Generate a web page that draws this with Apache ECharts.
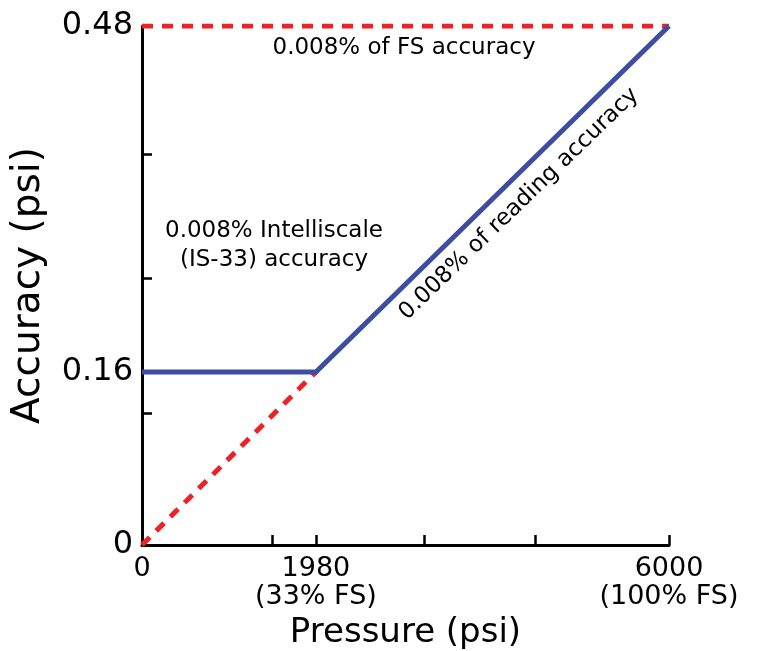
<!DOCTYPE html>
<html>
<head>
<meta charset="utf-8">
<script src="https://cdn.jsdelivr.net/npm/echarts@6/dist/echarts.min.js"></script>
<style>
html,body{margin:0;padding:0;background:#fff;}
#chart{width:762px;height:651px;}
</style>
</head>
<body>
<div id="chart"></div>
<script>
// ---- data ----
const xLabelValues = [0, 1980, 6000];
const xLabelTexts = { 0: '0', 1980: '1980\n(33% FS)', 6000: '6000\n(100% FS)' };
const xTickValues = [0, 1480, 1980, 3210, 4475, 6000];
const yLabelValues = [0, 0.16, 0.48];
const yLabelTexts = { 0: '0', 0.16: '0.16', 0.48: '0.48' };
const yTickValues = [0, 0.122, 0.16, 0.247, 0.361, 0.48];

const pressure = [0, 1980, 6000];
const instrumentAccuracy = [0.16, 0.16, 0.48];      // IS-33 Intelliscale (blue)
const fsPressure = [0, 6000];
const fsAccuracy = [0.48, 0.48];                    // 0.008% of FS (red dashed)
const readingPressure = [0, 1980];
const readingAccuracy = [0, 0.16];                  // 0.008% of reading below 33% FS (red dashed)

const annFS = '0.008% of FS accuracy';
const annIS = '0.008% Intelliscale\n(IS-33) accuracy';
const annRD = '0.008% of reading accuracy';

// ---- chart ----
const FONT = 'DejaVu Sans';
const chart = echarts.init(document.getElementById('chart'), null, { renderer: 'canvas' });
const zip = (xs, ys) => xs.map((x, i) => [x, ys[i]]);

chart.setOption({
  animation: false,
  backgroundColor: '#ffffff',
  grid: { left: 142, right: 93, top: 26, bottom: 106, containLabel: false, outerBoundsMode: 'none' },
  xAxis: {
    type: 'value', min: 0, max: 6000,
    name: 'Pressure (psi)', nameLocation: 'middle', nameGap: 71,
    nameTextStyle: { fontFamily: FONT, fontSize: 34, color: '#000' },
    axisLine: { show: true, onZero: false, lineStyle: { color: '#000', width: 3 } },
    axisTick: { show: true, inside: true, length: 10, lineStyle: { color: '#000', width: 2.5 }, customValues: xTickValues },
    axisLabel: {
      show: true, customValues: xLabelValues, margin: 10,
      fontFamily: FONT, fontSize: 27, color: '#000', lineHeight: 28,
      formatter: v => xLabelTexts[v] !== undefined ? xLabelTexts[v] : ''
    },
    splitLine: { show: false }
  },
  yAxis: {
    type: 'value', min: 0, max: 0.48,
    name: 'Accuracy (psi)', nameLocation: 'middle', nameGap: 94,
    nameTextStyle: { fontFamily: FONT, fontSize: 39, color: '#000' },
    axisLine: { show: true, onZero: false, lineStyle: { color: '#000', width: 3 } },
    axisTick: { show: true, inside: true, length: 10, lineStyle: { color: '#000', width: 2.5 }, customValues: yTickValues },
    axisLabel: {
      show: true, customValues: yLabelValues, margin: 9,
      fontFamily: FONT, fontSize: 32, color: '#000',
      formatter: v => yLabelTexts[v] !== undefined ? yLabelTexts[v] : ''
    },
    splitLine: { show: false }
  },
  series: [
    {
      type: 'line', name: 'FS', data: zip(fsPressure, fsAccuracy),
      symbol: 'none', z: 2,
      lineStyle: { color: '#ec2227', width: 5, type: [11, 9] }
    },
    {
      type: 'line', name: 'Reading', data: zip(readingPressure, readingAccuracy),
      symbol: 'none', z: 2,
      lineStyle: { color: '#ec2227', width: 5, type: [11, 9] }
    },
    {
      type: 'line', name: 'IS-33', data: zip(pressure, instrumentAccuracy),
      symbol: 'none', z: 3,
      lineStyle: { color: '#3d4ea2', width: 5, join: 'miter' }
    }
  ],
  graphic: [
    {
      type: 'text', x: 404, y: 48, z: 10,
      style: { text: annFS, fontFamily: FONT, fontSize: 23, fill: '#000', align: 'center', verticalAlign: 'middle' }
    },
    {
      type: 'text', x: 274, y: 246, z: 10,
      style: { text: annIS, fontFamily: FONT, fontSize: 23, lineHeight: 29, fill: '#000', align: 'center', verticalAlign: 'middle' }
    },
    {
      type: 'text', x: 519, y: 204, z: 10, rotation: 44 * Math.PI / 180,
      style: { text: annRD, fontFamily: FONT, fontSize: 23, fill: '#000', align: 'center', verticalAlign: 'middle' }
    }
  ]
});
</script>
</body>
</html>
